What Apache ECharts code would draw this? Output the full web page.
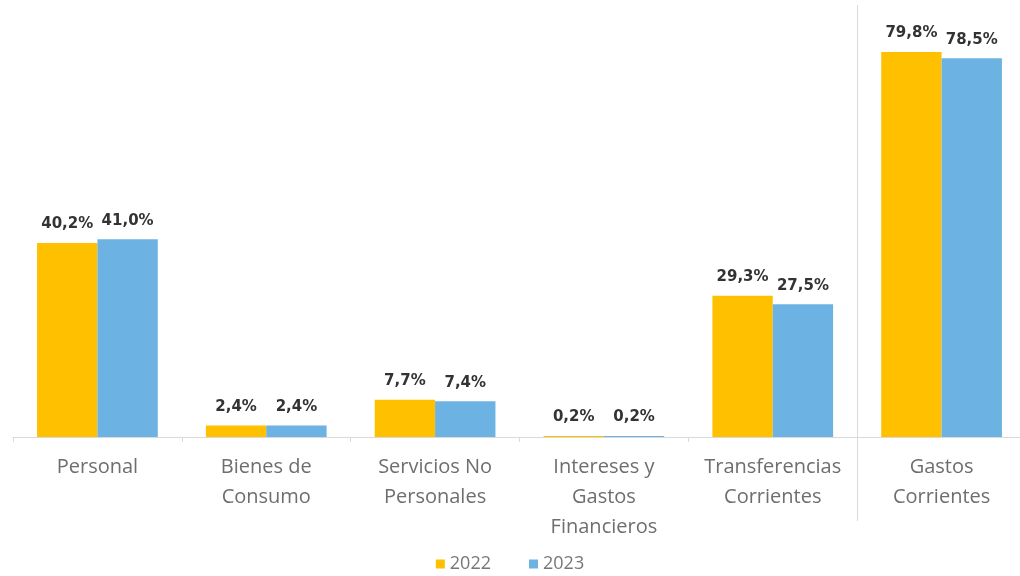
<!DOCTYPE html>
<html>
<head>
<meta charset="utf-8">
<script src="https://cdn.jsdelivr.net/npm/echarts@6/dist/echarts.min.js"></script>
<style>
	html, body { margin: 0; padding: 0; background: #fff; }
	#chart { width: 1020px; height: 576px; }
</style>
</head>
<body>
<div id="chart"></div>
<script>
var categories = ['Personal', 'Bienes de\nConsumo', 'Servicios No\nPersonales', 'Intereses y\nGastos\nFinancieros', 'Transferencias\nCorrientes', 'Gastos\nCorrientes'];
var values2022 = [40.2, 2.4, 7.7, 0.2, 29.3, 79.8];
var values2023 = [41.0, 2.4, 7.4, 0.2, 27.5, 78.5];
var seriesNames = ['2022', '2023'];

var fontFamily = '"Open Sans", Lato, sans-serif';

function pct(p) {
	return p.value.toFixed(1).replace('.', ',') + '%';
}

var labelStyle = {
	show: true,
	position: 'top',
	distance: 11,
	formatter: pct,
	fontFamily: '"DejaVu Sans", sans-serif',
	fontSize: 15,
	fontWeight: 'bold',
	color: '#333333'
};

var chart = echarts.init(document.getElementById('chart'));

var option = {
	animation: false,
	legend: {
		bottom: -2,
		left: 'center',
		itemWidth: 9,
		itemHeight: 9,
		itemGap: 38,
		icon: 'rect',
		textStyle: { fontFamily: fontFamily, fontSize: 18, color: '#777777' },
		data: seriesNames
	},
	grid: { left: 13, width: 1013, top: 51, bottom: 139, outerBoundsMode: 'none' },
	xAxis: {
		type: 'category',
		data: categories,
		axisLine: { lineStyle: { color: '#d9d9d9', width: 1 } },
		axisTick: { show: true, length: 5, lineStyle: { color: '#d9d9d9' } },
		axisLabel: {
			interval: 0,
			margin: 15,
			fontFamily: fontFamily,
			fontSize: 20,
			lineHeight: 30,
			color: '#6e6e6e'
		}
	},
	yAxis: {
		type: 'value',
		min: 0,
		max: 80,
		show: false,
		splitLine: { show: false }
	},
	series: [
		{
			name: seriesNames[0],
			type: 'bar',
			data: values2022,
			barGap: '0%',
			barCategoryGap: '28.5%',
			itemStyle: { color: '#FFC000' },
			label: labelStyle
		},
		{
			name: seriesNames[1],
			type: 'bar',
			data: values2023,
			itemStyle: { color: '#6CB2E2' },
			label: labelStyle
		}
	]
};

chart.setOption(option);

// separator between the detail categories and the total
var c4 = chart.convertToPixel({ xAxisIndex: 0 }, categories[4]);
var c5 = chart.convertToPixel({ xAxisIndex: 0 }, categories[5]);
var sepX = Math.round((c4 + c5) / 2) + 0.5;
chart.setOption({
	graphic: [{
		type: 'line',
		shape: { x1: sepX, y1: 5, x2: sepX, y2: 521 },
		style: { stroke: '#d9d9d9', lineWidth: 1 },
		silent: true
	}]
});
</script>
</body>
</html>
